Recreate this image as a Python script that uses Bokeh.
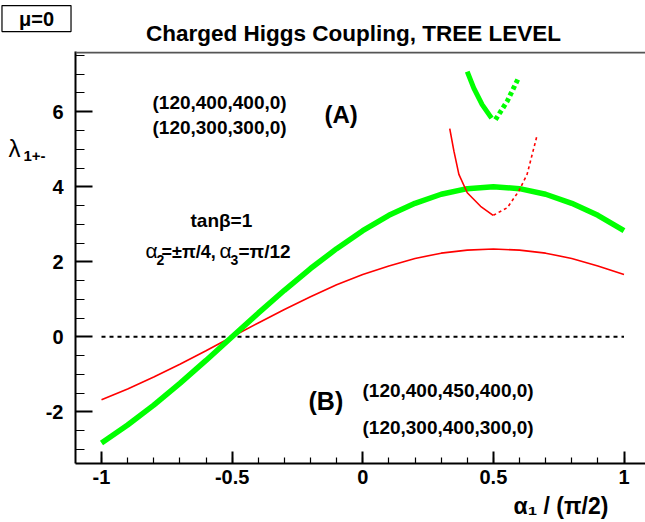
from bokeh.plotting import figure
from bokeh.models import Label, FixedTicker, Range1d, Span
from bokeh.embed import file_html
from bokeh.resources import INLINE

# ---------------- data ----------------
x_main = [-1.0, -0.9, -0.8, -0.7, -0.6, -0.5, -0.4, -0.3, -0.2, -0.1, 0.0,
          0.1, 0.2, 0.3, 0.4, 0.5, 0.6, 0.7, 0.8, 0.9, 1.0]
green_main = [-2.83, -2.35, -1.82, -1.24, -0.63, 0.0, 0.63, 1.24, 1.82, 2.35, 2.83,
              3.24, 3.56, 3.80, 3.95, 4.00, 3.95, 3.80, 3.56, 3.24, 2.83]
red_main = [-1.68, -1.39, -1.07, -0.73, -0.37, 0.0, 0.37, 0.73, 1.07, 1.39, 1.66,
            1.89, 2.09, 2.23, 2.31, 2.34, 2.31, 2.23, 2.09, 1.89, 1.66]

x_green_up_solid = [0.40, 0.425, 0.457, 0.493]
y_green_up_solid = [7.07, 6.63, 6.19, 5.83]
x_green_up_dot = [0.508, 0.553, 0.596]
y_green_up_dot = [5.79, 6.28, 6.90]

x_red_up_solid = [0.333, 0.349, 0.368, 0.400, 0.451, 0.499]
y_red_up_solid = [5.55, 4.95, 4.33, 3.84, 3.48, 3.24]
x_red_up_dot = [0.500, 0.553, 0.597, 0.629, 0.668]
y_red_up_dot = [3.24, 3.44, 3.88, 4.33, 5.39]

x_zero = [-1.0, 1.0]
y_zero = [0.0, 0.0]

x_ticks = [-1.0, -0.5, 0.0, 0.5, 1.0]
x_tick_labels = ["-1", "-0.5", "0", "0.5", "1"]
y_ticks = [-2, 0, 2, 4, 6]
y_tick_labels = ["-2", "0", "2", "4", "6"]
x_minor = [round(-1.0 + 0.1 * i, 2) for i in range(21)]
y_minor = [-3.0 + 0.5 * i for i in range(22)]

FONT = "Liberation Sans"
GREEN = "#00ff00"
RED = "#ff0000"

# frame placement in page pixels
F_LEFT, F_TOP, F_BOTTOM = 75, 50, 463
W, H = 645, 522

def dx(px):
    return -1.0 + (px - 101.0) / 261.25

def dy(py):
    return (336.0 - py) / 37.6

p = figure(width=W, height=H,
           x_range=Range1d(dx(F_LEFT), dx(W)), y_range=Range1d(dy(F_BOTTOM), dy(F_TOP)),
           output_backend="svg", toolbar_location=None,
           min_border_left=F_LEFT, min_border_right=0, min_border_top=F_TOP,
           min_border_bottom=H - F_BOTTOM)
p.outline_line_color = None
p.xgrid.visible = False
p.ygrid.visible = False
p.background_fill_color = "white"
p.border_fill_color = "white"

# axes
xa = p.xaxis[0]
xa.ticker = FixedTicker(ticks=x_ticks, minor_ticks=x_minor)
xa.major_label_overrides = {t: l for t, l in zip(x_ticks, x_tick_labels)}
ya = p.yaxis[0]
ya.ticker = FixedTicker(ticks=y_ticks, minor_ticks=y_minor)
ya.major_label_overrides = {t: l for t, l in zip(y_ticks, y_tick_labels)}

for ax, mj, mn, so in ((xa, 12, 6, 6), (ya, 17, 9, 12)):
    ax.axis_line_width = 2
    ax.axis_line_color = "black"
    ax.major_tick_in = mj
    ax.major_tick_out = 0
    ax.minor_tick_in = mn
    ax.minor_tick_out = 0
    ax.major_tick_line_width = 2
    ax.major_tick_line_color = "black"
    ax.minor_tick_line_width = 1.2
    ax.minor_tick_line_color = "black"
    ax.major_label_text_font = FONT
    ax.major_label_text_font_style = "bold"
    ax.major_label_text_font_size = "20px"
    ax.major_label_text_color = "black"
    ax.major_label_standoff = so

# top frame line
p.add_layout(Span(location=dy(F_TOP + 1), dimension="width", line_color="#555555", line_width=2))

# curves
p.line(x_zero, y_zero, line_color="black", line_width=2, line_dash="4 4")
p.line(x_main, red_main, line_color=RED, line_width=1.6)
p.line(x_main, green_main, line_color=GREEN, line_width=5.5)
p.line(x_red_up_solid, y_red_up_solid, line_color=RED, line_width=1.6)
p.line(x_red_up_dot, y_red_up_dot, line_color=RED, line_width=1.6, line_dash="3 3")
p.line(x_green_up_solid, y_green_up_solid, line_color=GREEN, line_width=5)
p.line(x_green_up_dot, y_green_up_dot, line_color=GREEN, line_width=5, line_dash="4 3")

def lab(px, py, text, size, bold=True, align="left", place=None, **kw):
    # py is the wanted baseline in page pixels; bokeh's alphabetic anchor sits ~0.4em lower
    l = Label(x=dx(px), y=dy(py - 0.4 * size), text=text, text_font=FONT,
              text_font_size=f"{size}px",
              text_font_style="bold" if bold else "normal",
              text_align=align, text_baseline="alphabetic",
              text_color="black", **kw)
    if place is None:
        p.add_layout(l)
    else:
        p.add_layout(l, place)

# title and corner box (outside the frame: in side panels, so not clipped)
lab(353, 41, "Charged Higgs Coupling, TREE LEVEL", 22.5, align="center", place="above")
lab(36, 25, "μ=0", 20, align="center", place="above", border_line_color="black",
    border_line_width=1.2, background_fill_color="white", padding=(17, 2))

# annotations inside the frame
lab(152, 109, "(120,400,400,0)", 19)
lab(152, 134, "(120,300,300,0)", 19)
lab(324, 123, "(A)", 24)
lab(190, 227, "tanβ=1", 19)
lab(145, 258, "α", 21, bold=False)
lab(156, 265, "2", 14)
lab(161, 258, "=±π/4,", 18)
lab(219, 258, "α", 21, bold=False)
lab(230, 265, "3", 14)
lab(238, 258, "=π/12", 19)
lab(308, 410, "(B)", 25)
lab(362, 397, "(120,400,450,400,0)", 19)
lab(362, 435, "(120,300,400,300,0)", 19)

# axis titles
lab(8, 157, "λ", 24, bold=False, place="left")
lab(23, 161, "1+-", 15, place="left")
lab(513, 515, "α₁ / (π/2)", 23, place="below")

open("out.html", "w").write(file_html(p, INLINE))
